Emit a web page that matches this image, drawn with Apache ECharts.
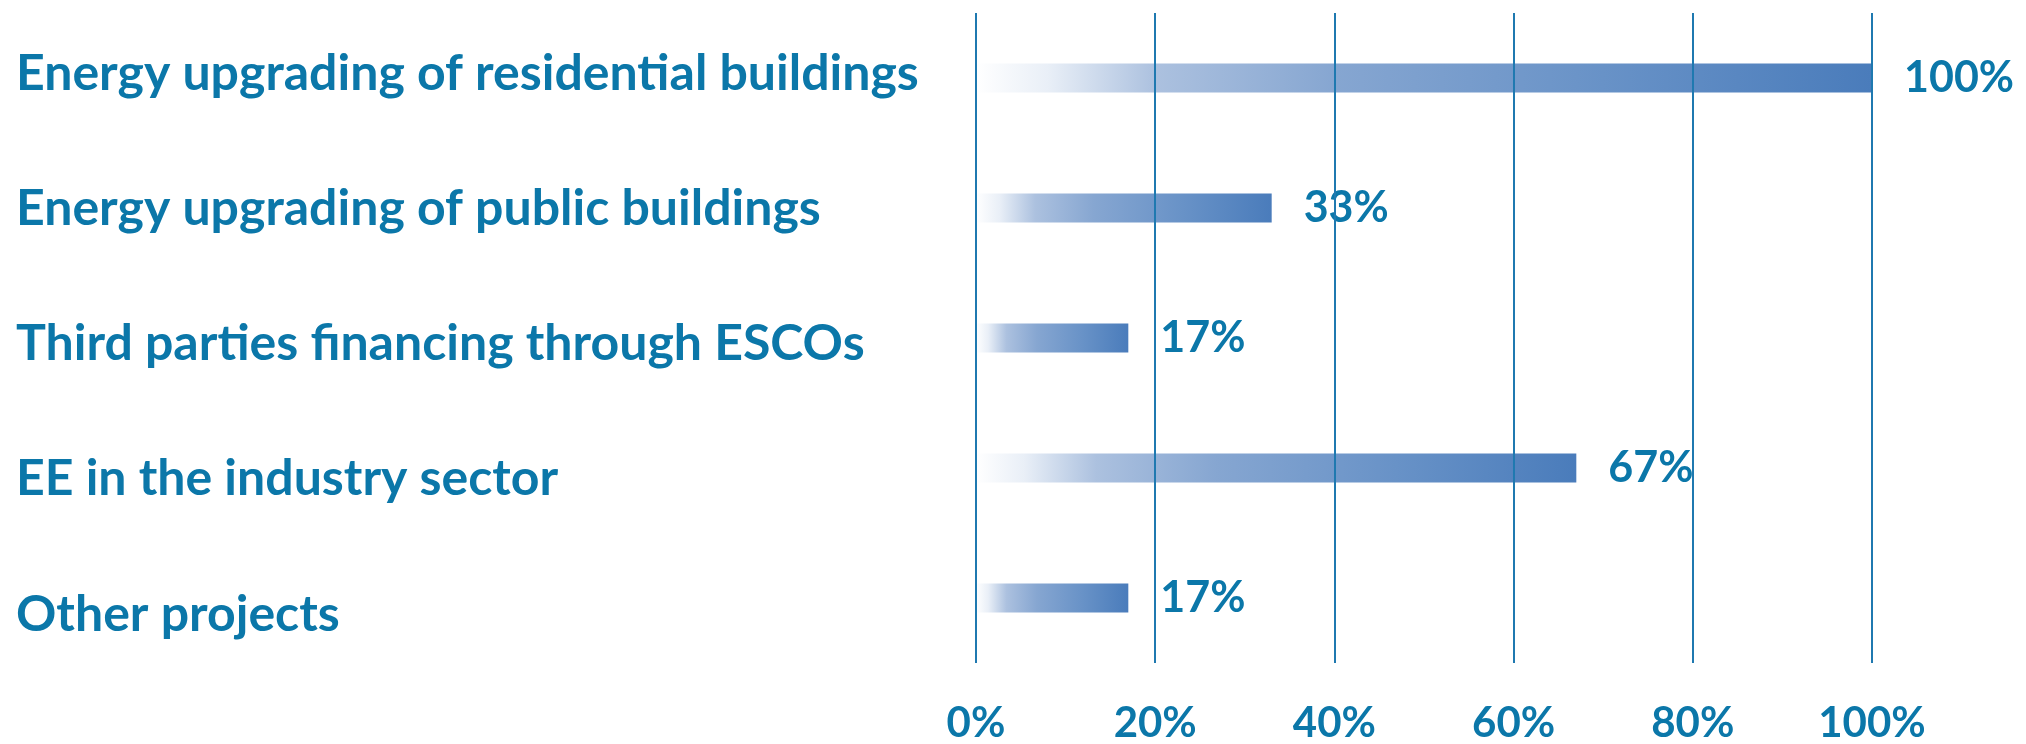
<!DOCTYPE html>
<html><head><meta charset="utf-8">
<script src="https://cdn.jsdelivr.net/npm/echarts@6/dist/echarts.min.js"></script>
<style>html,body{margin:0;padding:0;background:#fff}#c{width:2026px;height:744px}</style>
</head><body><div id="c"></div>
<script>
const categories = ["Energy upgrading of residential buildings","Energy upgrading of public buildings","Third parties financing through ESCOs","EE in the industry sector","Other projects"];
const values = [100, 33, 17, 67, 17];
const tickLabels = ["0%","20%","40%","60%","80%","100%"];

const chart = echarts.init(document.getElementById('c'));
const txt = '#0b77a9';
chart.setOption({
  backgroundColor:'#fff',
  animation:false,
  grid:[
    {left:976,right:154,top:13,bottom:77,containLabel:false},
    {left:16,width:10,top:6,bottom:62,containLabel:false}
  ],
  xAxis:[
    {type:'value',gridIndex:0,min:0,max:100,interval:20,z:10,
      axisLine:{show:false},axisTick:{show:false},
      splitLine:{show:true,lineStyle:{color:'#1f79b0',width:2}},
      axisLabel:{margin:39,color:txt,fontFamily:'Lato',fontWeight:'bold',fontSize:42,
        formatter:(v)=>tickLabels[Math.round(v/20)]}},
    {type:'value',gridIndex:1,show:false,min:0,max:1}
  ],
  yAxis:[
    {type:'category',gridIndex:0,data:categories,inverse:true,
      axisLine:{show:false},axisTick:{show:false},axisLabel:{show:false},splitLine:{show:false}},
    {type:'category',gridIndex:1,data:categories,inverse:true,
      axisLine:{show:false},axisTick:{show:false},splitLine:{show:false},
      axisLabel:{align:'left',margin:0,inside:true,color:txt,fontFamily:'Lato',fontWeight:'bold',fontSize:50}}
  ],
  series:[{type:'bar',xAxisIndex:0,yAxisIndex:0,data:values,barWidth:29,
    itemStyle:{color:new echarts.graphic.LinearGradient(0,0,1,0,[
      {offset:0,color:'rgba(255,255,255,1)'},
      {offset:0.08,color:'#e9eff7'},
      {offset:0.2,color:'#acc1df'},
      {offset:0.4,color:'#86a6d1'},
      {offset:0.7,color:'#6892c7'},
      {offset:1,color:'#4a7cbb'}])},
    label:{show:true,position:'right',distance:32,color:txt,fontFamily:'Lato',fontWeight:'bold',fontSize:43,
      formatter:(p)=>p.value+'%'}}]
});
</script></body></html>
